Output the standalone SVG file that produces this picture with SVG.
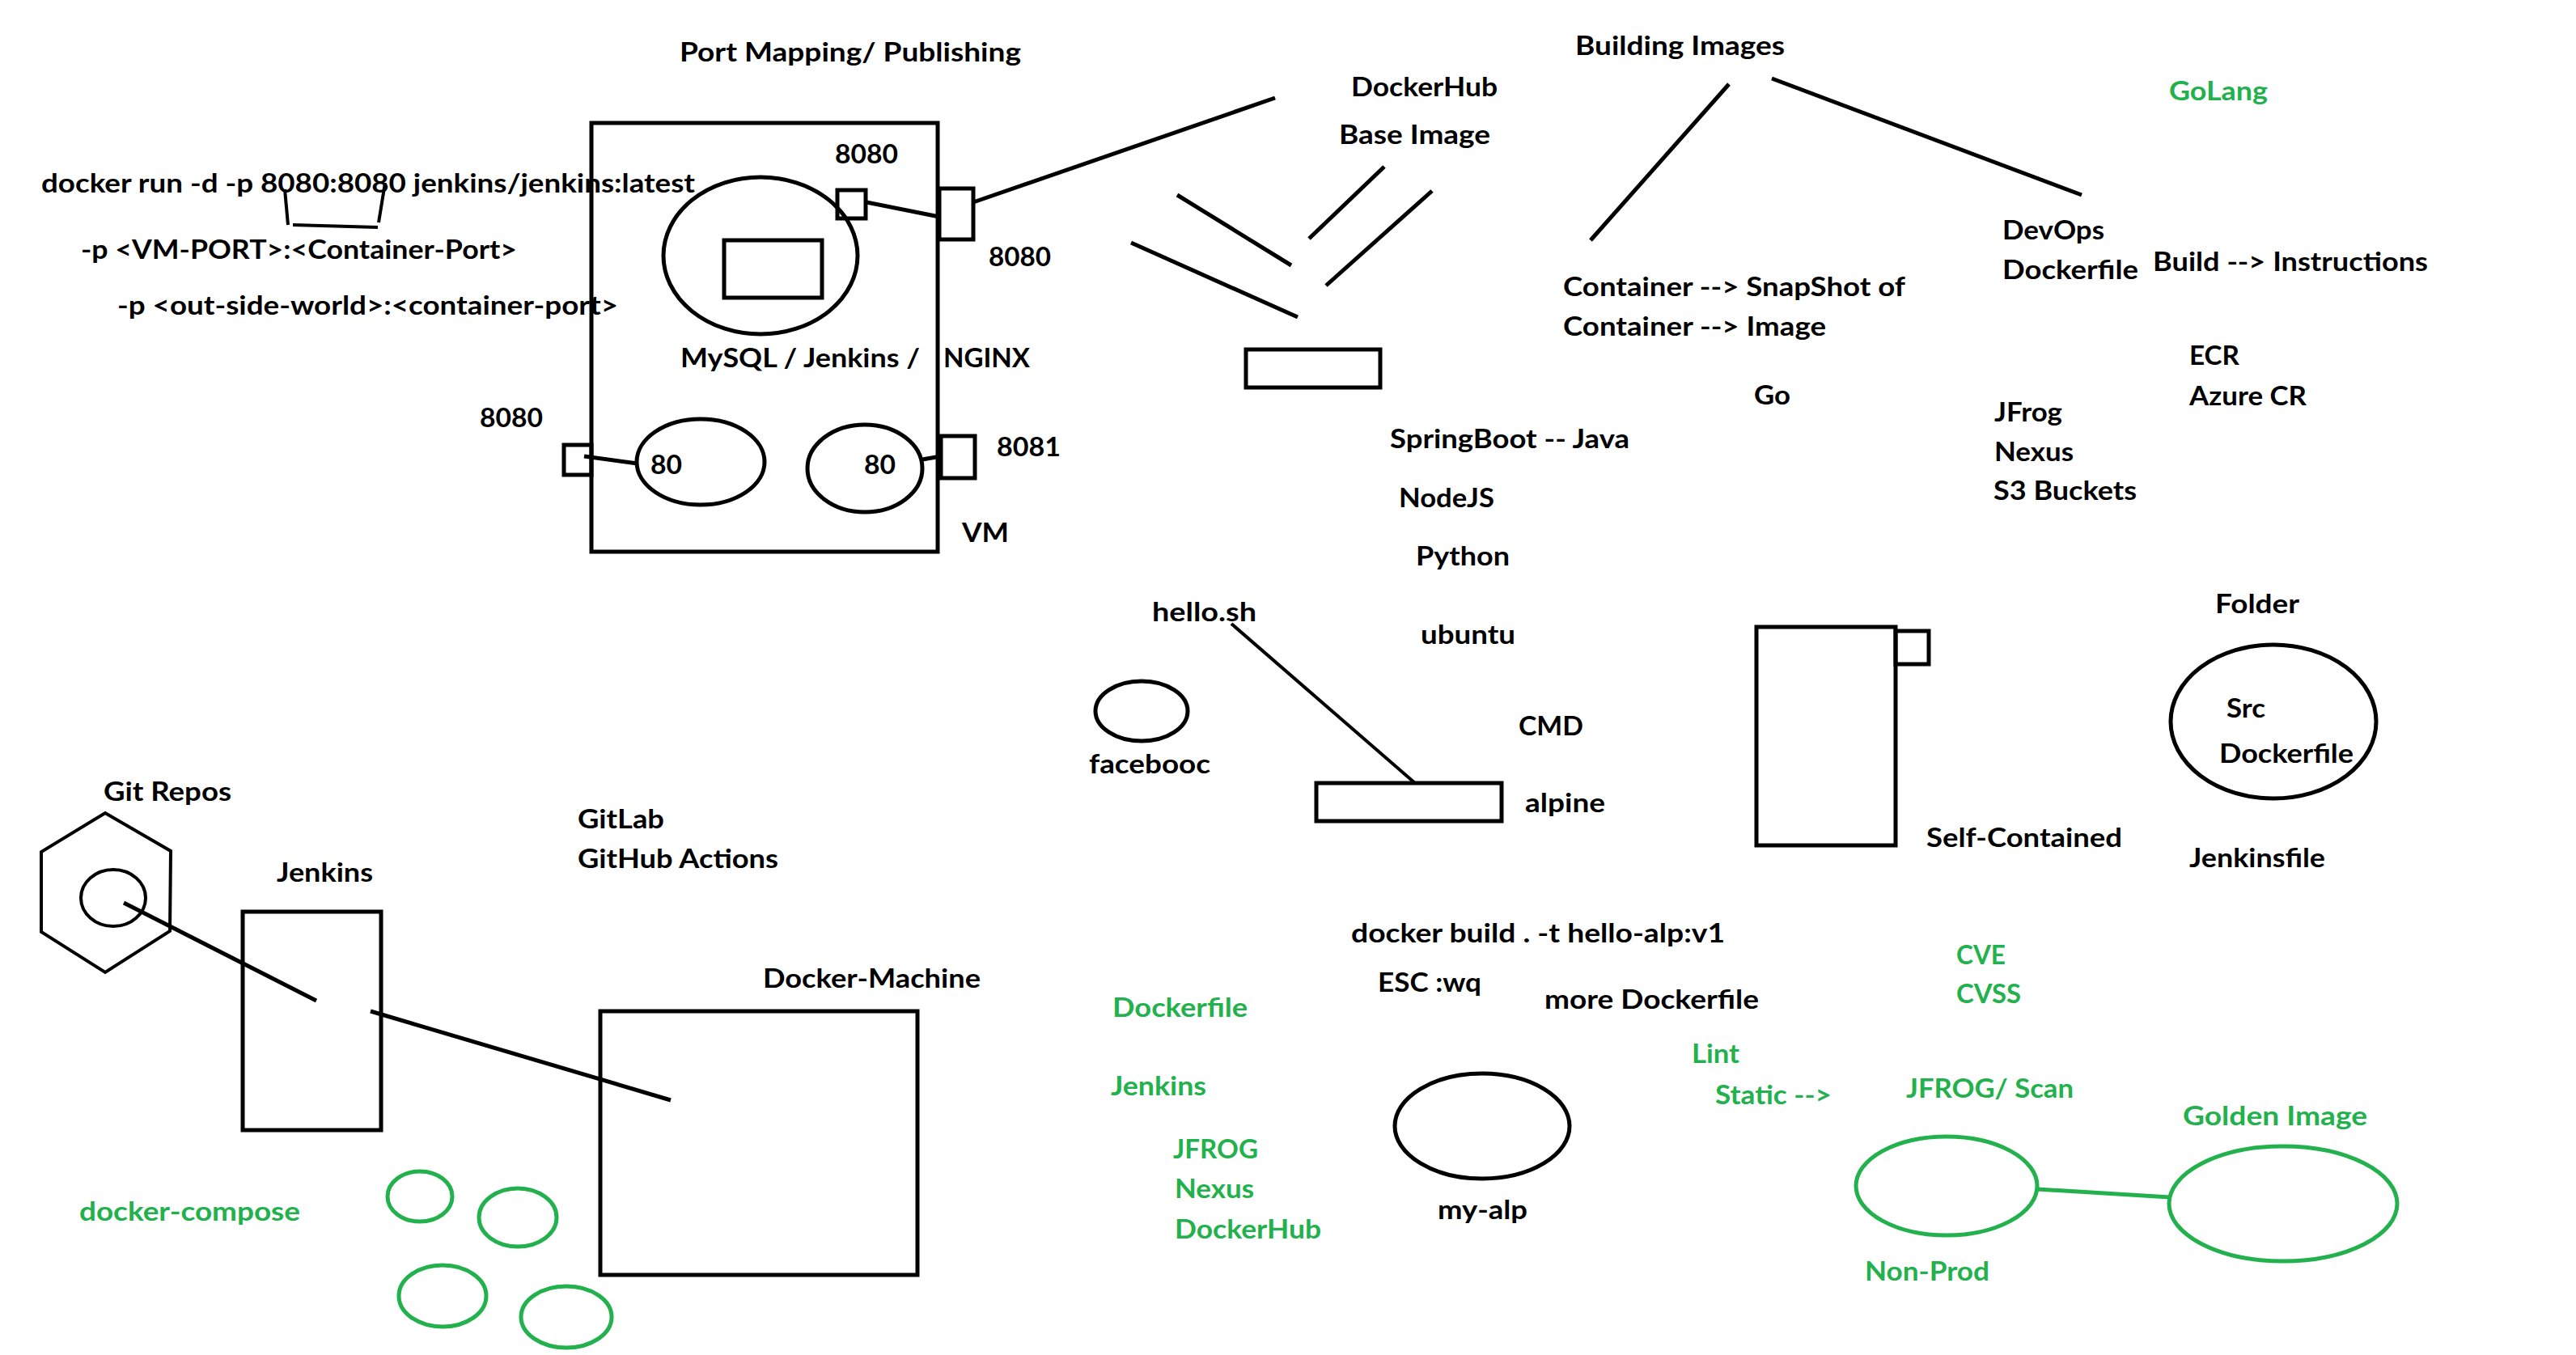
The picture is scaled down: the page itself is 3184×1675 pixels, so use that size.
<svg xmlns="http://www.w3.org/2000/svg" width="3184" height="1675" viewBox="0 0 3184 1675">
<style>
text{font-family:"Lato","Liberation Sans",sans-serif;font-weight:bold;font-size:33px;fill:#000}
text.g{fill:#22b14c}
.s{fill:none;stroke:#000;stroke-width:5}
.t{fill:none;stroke:#000;stroke-width:4}
.gs{fill:none;stroke:#22b14c;stroke-width:5}
</style>
<rect width="3184" height="1675" fill="#fff"/>

<g id="vm">
<rect class="s" x="731" y="152" width="428" height="530"/>
<text x="1189" y="670" textLength="58" lengthAdjust="spacingAndGlyphs">VM</text>
</g>
<g id="container-main">
<ellipse class="s" cx="940" cy="316" rx="120" ry="97"/>
<rect class="s" x="895" y="297" width="121" height="71"/>
<rect class="s" x="1035" y="235" width="35" height="35"/>
<text x="1032" y="202" textLength="78" lengthAdjust="spacingAndGlyphs">8080</text>
</g>
<g id="port-vm-8080">
<rect class="s" x="1161" y="233" width="42" height="63"/>
<text x="1222" y="329" textLength="77" lengthAdjust="spacingAndGlyphs">8080</text>
</g>
<g id="container-80a">
<ellipse class="s" cx="866" cy="571" rx="79" ry="53"/>
<text x="804" y="586" textLength="39" lengthAdjust="spacingAndGlyphs">80</text>
</g>
<g id="container-80b">
<ellipse class="s" cx="1069" cy="579" rx="71" ry="54"/>
<text x="1068" y="586" textLength="39" lengthAdjust="spacingAndGlyphs">80</text>
</g>
<g id="port-left-8080">
<rect class="s" x="697" y="550" width="34" height="37"/>
<text x="593" y="528" textLength="78" lengthAdjust="spacingAndGlyphs">8080</text>
</g>
<g id="port-8081">
<rect class="s" x="1163" y="539" width="42" height="52"/>
<text x="1232" y="564" textLength="79" lengthAdjust="spacingAndGlyphs">8081</text>
</g>
<g id="port-notes">
<text x="840" y="76" textLength="422" lengthAdjust="spacingAndGlyphs">Port Mapping/ Publishing</text>
<text x="51" y="238" textLength="808" lengthAdjust="spacingAndGlyphs">docker run -d -p 8080:8080 jenkins/jenkins:latest</text>
<polyline class="t" points="352,234 356,278"/>
<polyline class="t" points="362,278 467,281"/>
<polyline class="t" points="468,275 476,226"/>
<text x="100" y="320" textLength="539" lengthAdjust="spacingAndGlyphs">-p &lt;VM-PORT&gt;:&lt;Container-Port&gt;</text>
<text x="145" y="389" textLength="619" lengthAdjust="spacingAndGlyphs">-p &lt;out-side-world&gt;:&lt;container-port&gt;</text>
<text x="841" y="454" textLength="296" lengthAdjust="spacingAndGlyphs">MySQL / Jenkins /</text>
<text x="1166" y="454" textLength="107" lengthAdjust="spacingAndGlyphs">NGINX</text>
</g>

<g id="base-image">
<text x="1670" y="119" textLength="181" lengthAdjust="spacingAndGlyphs">DockerHub</text>
<text x="1655" y="178" textLength="187" lengthAdjust="spacingAndGlyphs">Base Image</text>
<rect class="s" x="1540" y="432" width="166" height="47"/>
</g>
<g id="building-images">
<text x="1947" y="68" textLength="259" lengthAdjust="spacingAndGlyphs">Building Images</text>
<text x="1932" y="366" textLength="423" lengthAdjust="spacingAndGlyphs">Container --&gt; SnapShot of</text>
<text x="1932" y="415" textLength="325" lengthAdjust="spacingAndGlyphs">Container --&gt; Image</text>
<text x="2168" y="500" textLength="45" lengthAdjust="spacingAndGlyphs">Go</text>
</g>
<g id="languages">
<text x="1718" y="554" textLength="296" lengthAdjust="spacingAndGlyphs">SpringBoot -- Java</text>
<text x="1729" y="627" textLength="118" lengthAdjust="spacingAndGlyphs">NodeJS</text>
<text x="1750" y="699" textLength="116" lengthAdjust="spacingAndGlyphs">Python</text>
<text x="1756" y="796" textLength="117" lengthAdjust="spacingAndGlyphs">ubuntu</text>
<text x="1877" y="909" textLength="80" lengthAdjust="spacingAndGlyphs">CMD</text>
</g>
<g id="hello-sh">
<text x="1424" y="768" textLength="129" lengthAdjust="spacingAndGlyphs">hello.sh</text>
</g>
<g id="facebooc">
<ellipse class="s" cx="1411" cy="879" rx="57" ry="37"/>
<text x="1346" y="956" textLength="150" lengthAdjust="spacingAndGlyphs">facebooc</text>
</g>
<g id="alpine">
<rect class="s" x="1627" y="968" width="229" height="47"/>
<text x="1885" y="1004" textLength="99" lengthAdjust="spacingAndGlyphs">alpine</text>
</g>
<g id="devops">
<text x="2475" y="296" textLength="126" lengthAdjust="spacingAndGlyphs">DevOps</text>
<text x="2475" y="345" textLength="168" lengthAdjust="spacingAndGlyphs">Dockerfile</text>
<text x="2661" y="335" textLength="340" lengthAdjust="spacingAndGlyphs">Build --&gt; Instructions</text>
<text class="g" x="2681" y="124" textLength="122" lengthAdjust="spacingAndGlyphs">GoLang</text>
</g>
<g id="registries">
<text x="2706" y="451" textLength="62" lengthAdjust="spacingAndGlyphs">ECR</text>
<text x="2706" y="501" textLength="145" lengthAdjust="spacingAndGlyphs">Azure CR</text>
<text x="2465" y="521" textLength="84" lengthAdjust="spacingAndGlyphs">JFrog</text>
<text x="2465" y="570" textLength="98" lengthAdjust="spacingAndGlyphs">Nexus</text>
<text x="2464" y="618" textLength="177" lengthAdjust="spacingAndGlyphs">S3 Buckets</text>
</g>
<g id="self-contained">
<rect class="s" x="2171" y="775" width="172" height="270"/>
<rect class="s" x="2343" y="780" width="41" height="41"/>
<text x="2381" y="1047" textLength="242" lengthAdjust="spacingAndGlyphs">Self-Contained</text>
</g>
<g id="folder">
<text x="2738" y="758" textLength="104" lengthAdjust="spacingAndGlyphs">Folder</text>
<ellipse class="s" cx="2810" cy="892" rx="127" ry="95"/>
<text x="2752" y="887" textLength="48" lengthAdjust="spacingAndGlyphs">Src</text>
<text x="2743" y="943" textLength="166" lengthAdjust="spacingAndGlyphs">Dockerfile</text>
<text x="2706" y="1072" textLength="168" lengthAdjust="spacingAndGlyphs">Jenkinsfile</text>
</g>

<g id="git-repos">
<text x="128" y="990" textLength="158" lengthAdjust="spacingAndGlyphs">Git Repos</text>
<polygon class="t" points="130,1005 211,1052 210,1151 130,1202 51,1152 51,1053"/>
<ellipse class="t" cx="140" cy="1110" rx="40" ry="35"/>
</g>
<g id="jenkins">
<text x="342" y="1090" textLength="119" lengthAdjust="spacingAndGlyphs">Jenkins</text>
<rect class="s" x="300" y="1127" width="171" height="270"/>
</g>
<g id="ci-tools">
<text x="714" y="1024" textLength="107" lengthAdjust="spacingAndGlyphs">GitLab</text>
<text x="714" y="1073" textLength="248" lengthAdjust="spacingAndGlyphs">GitHub Actions</text>
</g>
<g id="docker-machine">
<text x="943" y="1221" textLength="269" lengthAdjust="spacingAndGlyphs">Docker-Machine</text>
<rect class="s" x="742" y="1250" width="392" height="326"/>
</g>
<g id="docker-compose">
<text class="g" x="98" y="1509" textLength="273" lengthAdjust="spacingAndGlyphs">docker-compose</text>
<ellipse class="gs" cx="519" cy="1479" rx="40" ry="31"/>
<ellipse class="gs" cx="640" cy="1505" rx="48" ry="36"/>
<ellipse class="gs" cx="547" cy="1602" rx="54" ry="38"/>
<ellipse class="gs" cx="700" cy="1628" rx="56" ry="38"/>
</g>

<g id="build-commands">
<text x="1670" y="1165" textLength="462" lengthAdjust="spacingAndGlyphs">docker build . -t hello-alp:v1</text>
<text x="1703" y="1226" textLength="128" lengthAdjust="spacingAndGlyphs">ESC :wq</text>
<text x="1909" y="1247" textLength="265" lengthAdjust="spacingAndGlyphs">more Dockerfile</text>
</g>
<g id="my-alp">
<ellipse class="s" cx="1832" cy="1392" rx="108" ry="65"/>
<text x="1777" y="1507" textLength="111" lengthAdjust="spacingAndGlyphs">my-alp</text>
</g>
<g id="pipeline-notes">
<text class="g" x="1375" y="1257" textLength="167" lengthAdjust="spacingAndGlyphs">Dockerfile</text>
<text class="g" x="1373" y="1354" textLength="118" lengthAdjust="spacingAndGlyphs">Jenkins</text>
<text class="g" x="1450" y="1432" textLength="105" lengthAdjust="spacingAndGlyphs">JFROG</text>
<text class="g" x="1452" y="1481" textLength="98" lengthAdjust="spacingAndGlyphs">Nexus</text>
<text class="g" x="1452" y="1531" textLength="181" lengthAdjust="spacingAndGlyphs">DockerHub</text>
</g>
<g id="scanning">
<text class="g" x="2091" y="1314" textLength="59" lengthAdjust="spacingAndGlyphs">Lint</text>
<text class="g" x="2120" y="1365" textLength="144" lengthAdjust="spacingAndGlyphs">Static --&gt;</text>
<text class="g" x="2418" y="1192" textLength="61" lengthAdjust="spacingAndGlyphs">CVE</text>
<text class="g" x="2418" y="1240" textLength="80" lengthAdjust="spacingAndGlyphs">CVSS</text>
<text class="g" x="2356" y="1357" textLength="207" lengthAdjust="spacingAndGlyphs">JFROG/ Scan</text>
</g>
<g id="non-prod">
<ellipse class="gs" cx="2406" cy="1466" rx="112" ry="61"/>
<text class="g" x="2305" y="1583" textLength="154" lengthAdjust="spacingAndGlyphs">Non-Prod</text>
</g>
<g id="golden-image">
<text class="g" x="2698" y="1391" textLength="228" lengthAdjust="spacingAndGlyphs">Golden Image</text>
<ellipse class="gs" cx="2822" cy="1488" rx="141" ry="71"/>
</g>

<g id="connectors">
<line class="s" x1="1071" y1="250" x2="1161" y2="268"/>
<line class="s" x1="1203" y1="250" x2="1576" y2="121"/>
<line class="s" x1="722" y1="564" x2="788" y2="573"/>
<line class="s" x1="1140" y1="568" x2="1163" y2="564"/>
<line class="s" x1="1711" y1="206" x2="1618" y2="295"/>
<line class="s" x1="1770" y1="236" x2="1639" y2="353"/>
<line class="s" x1="1455" y1="241" x2="1596" y2="328"/>
<line class="s" x1="1398" y1="300" x2="1604" y2="392"/>
<line class="s" x1="2137" y1="104" x2="1966" y2="297"/>
<line class="s" x1="2190" y1="97" x2="2573" y2="241"/>
<line class="t" x1="1522" y1="771" x2="1749" y2="968"/>
<line class="s" x1="153" y1="1116" x2="391" y2="1237"/>
<line class="s" x1="458" y1="1250" x2="829" y2="1360"/>
<line class="gs" x1="2518" y1="1470" x2="2682" y2="1480"/>
</g>
</svg>
